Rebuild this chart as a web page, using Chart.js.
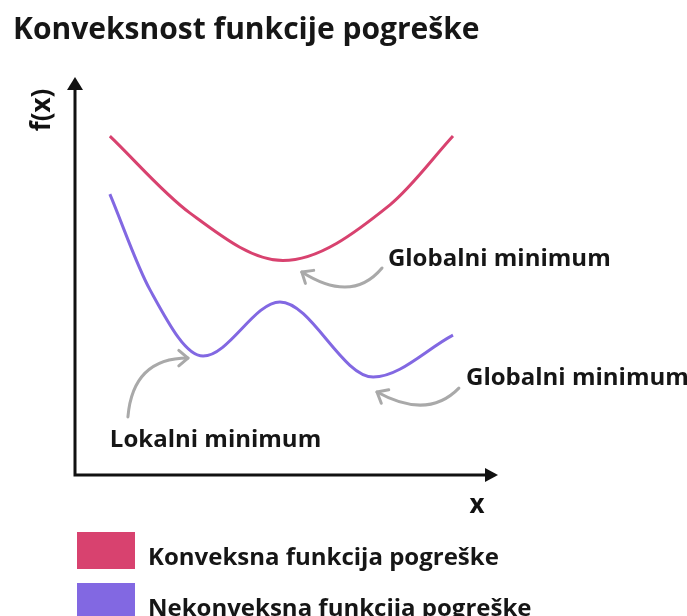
<!DOCTYPE html>
<html>
<head>
<meta charset="utf-8">
<title>Konveksnost funkcije pogreške</title>
<script src="https://cdn.jsdelivr.net/npm/chart.js@4.4.0/dist/chart.umd.min.js"></script>
<style>
  body { margin: 0; background: #fff; }
  canvas { display: block; }
</style>
</head>
<body>
<canvas id="lossChart" width="687" height="616"></canvas>
<script>
// sample points of both curves (ends, turning points, a few in between), axis units 0-10
const convexX = [0.83, 2.74, 4.95, 7.5, 9.0];
const convexY = [8.58, 6.63, 5.43, 6.84, 8.58];
const nonConvexX = [0.83, 1.79, 3.05, 4.88, 7.1, 9.0];
const nonConvexY = [7.11, 4.68, 3.01, 4.38, 2.48, 3.54];

const seriesLabels = ['Konveksna funkcija pogreške', 'Nekonveksna funkcija pogreške'];
const seriesColors = ['#d8426f', '#8268e2'];
const titleText = 'Konveksnost funkcije pogreške';

// callouts: text anchor + curved arrow (start, control, tip), in axis units
const notes = [
  { text: 'Globalni minimum', at: [7.45, 5.29], from: [7.31, 5.24], ctrl: [6.60, 4.33], to: [5.40, 5.14] },
  { text: 'Globalni minimum', at: [9.31, 2.28], from: [9.14, 2.20], ctrl: [8.40, 1.39], to: [7.19, 2.10] },
  { text: 'Lokalni minimum',  at: [0.83, 0.71], from: [1.26, 1.47], ctrl: [1.38, 2.96], to: [2.69, 2.96] }
];

const toPoints = (xs, ys) => xs.map((v, i) => ({ x: v, y: ys[i] }));

const FONT = '"Open Sans", "DejaVu Sans", sans-serif';

const decorations = {
  id: 'decorations',
  afterDraw(chart) {
    const { ctx, chartArea: a, scales: { x, y } } = chart;
    ctx.save();

    // title
    ctx.fillStyle = '#161616';
    ctx.font = 'bold 30px ' + FONT;
    ctx.textAlign = 'left';
    ctx.textBaseline = 'alphabetic';
    ctx.fillText(titleText, 13, 39);

    // axis lines with arrow heads
    ctx.strokeStyle = '#111';
    ctx.fillStyle = '#111';
    ctx.lineWidth = 3;
    ctx.beginPath();
    ctx.moveTo(a.left, a.top + 4);
    ctx.lineTo(a.left, a.bottom);
    ctx.lineTo(a.right - 4, a.bottom);
    ctx.stroke();
    ctx.beginPath();
    ctx.moveTo(a.left, a.top - 3);
    ctx.lineTo(a.left - 8, a.top + 10);
    ctx.lineTo(a.left + 8, a.top + 10);
    ctx.closePath();
    ctx.fill();
    ctx.beginPath();
    ctx.moveTo(a.right + 3, a.bottom);
    ctx.lineTo(a.right - 10, a.bottom - 7);
    ctx.lineTo(a.right - 10, a.bottom + 7);
    ctx.closePath();
    ctx.fill();

    // axis names
    ctx.font = 'bold 26px ' + FONT;
    ctx.textAlign = 'center';
    ctx.textBaseline = 'middle';
    ctx.save();
    ctx.translate(a.left - 32, a.top + 30);
    ctx.rotate(-Math.PI / 2);
    ctx.fillText('f(x)', 0, 0);
    ctx.restore();
    ctx.textBaseline = 'alphabetic';
    ctx.fillText('x', a.right - 18, a.bottom + 38);

    // callout arrows
    ctx.strokeStyle = '#a9a9a9';
    ctx.lineWidth = 3;
    ctx.lineCap = 'round';
    ctx.lineJoin = 'round';
    notes.forEach(n => {
      const p0 = [x.getPixelForValue(n.from[0]), y.getPixelForValue(n.from[1])];
      const c = [x.getPixelForValue(n.ctrl[0]), y.getPixelForValue(n.ctrl[1])];
      const p2 = [x.getPixelForValue(n.to[0]), y.getPixelForValue(n.to[1])];
      ctx.beginPath();
      ctx.moveTo(p0[0], p0[1]);
      ctx.quadraticCurveTo(c[0], c[1], p2[0], p2[1]);
      ctx.stroke();
      const ang = Math.atan2(p2[1] - c[1], p2[0] - c[0]);
      const len = 12;
      ctx.beginPath();
      ctx.moveTo(p2[0] - len * Math.cos(ang - 0.7), p2[1] - len * Math.sin(ang - 0.7));
      ctx.lineTo(p2[0], p2[1]);
      ctx.lineTo(p2[0] - len * Math.cos(ang + 0.7), p2[1] - len * Math.sin(ang + 0.7));
      ctx.stroke();
    });

    // callout texts
    ctx.fillStyle = '#161616';
    ctx.font = 'bold 24px ' + FONT;
    ctx.textAlign = 'left';
    notes.forEach(n => {
      ctx.fillText(n.text, x.getPixelForValue(n.at[0]), y.getPixelForValue(n.at[1]));
    });

    // legend
    const ds = chart.data.datasets;
    ds.forEach((d, i) => {
      const top = 532 + i * 51;
      ctx.fillStyle = d.borderColor;
      ctx.fillRect(77, top, 58, 37);
      ctx.fillStyle = '#161616';
      ctx.font = 'bold 24px ' + FONT;
      ctx.fillText(d.label, 148, top + 33);
    });

    ctx.restore();
  }
};

const ctx = document.getElementById('lossChart').getContext('2d');
const lossChart = new Chart(ctx, {
  type: 'line',
  data: {
    datasets: [{
      label: seriesLabels[0],
      data: toPoints(convexX, convexY),
      borderColor: seriesColors[0],
      borderWidth: 3,
      pointRadius: 0,
      cubicInterpolationMode: 'monotone'
    }, {
      label: seriesLabels[1],
      data: toPoints(nonConvexX, nonConvexY),
      borderColor: seriesColors[1],
      borderWidth: 3,
      pointRadius: 0,
      cubicInterpolationMode: 'monotone'
    }]
  },
  options: {
    responsive: false,
    animation: false,
    devicePixelRatio: 1,
    layout: { padding: { left: 75, right: 192, top: 80, bottom: 141 } },
    scales: {
      x: { type: 'linear', min: 0, max: 10, display: false },
      y: { type: 'linear', min: 0, max: 10, display: false }
    },
    plugins: {
      legend: { display: false },
      tooltip: { enabled: false }
    }
  },
  plugins: [decorations]
});
</script>
</body>
</html>
